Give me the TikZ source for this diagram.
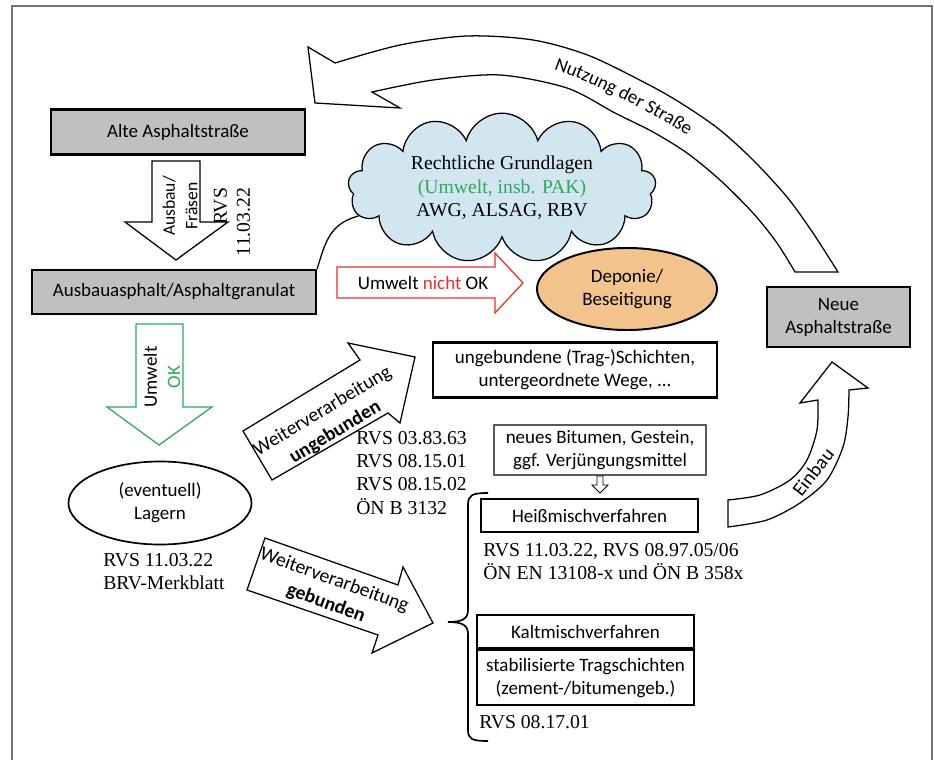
\documentclass[tikz,border=0pt]{standalone}
\usepackage{fontspec}
\setmainfont{Liberation Serif}
\setsansfont{Carlito}
\usepackage{tikz}
\usetikzlibrary{shapes.geometric, shapes.symbols, decorations.text}

\definecolor{boxgray}{HTML}{C0C0C0}
\definecolor{cloudblue}{HTML}{D2E6EF}
\definecolor{deporange}{HTML}{F3C38E}
\definecolor{okgreen}{HTML}{2FA95A}
\definecolor{nokred}{HTML}{E8302C}

\tikzset{
  lbl/.style={font=\sffamily\fontsize{13.5}{16.4}\selectfont, align=center},
  arrowlbl/.style={font=\sffamily\fontsize{14}{17.5}\selectfont, align=center, inner sep=0pt},
  norm/.style={font=\rmfamily\fontsize{14}{16.4}\selectfont, align=left, inner sep=0pt},
  graybox/.style={lbl, draw, line width=1.6pt, fill=boxgray, inner sep=0pt},
  whitebox/.style={lbl, draw, line width=1.6pt, fill=white, inner sep=0pt},
  blockarrow/.style={draw, fill=white, line width=0.9pt, line join=miter},
}

\begin{document}
\begin{tikzpicture}[x=0.025cm, y=-0.025cm]
\useasboundingbox (0,0) rectangle (935,760);
% frame
\draw[black!55, line width=0.8pt] (12,760) -- (12,6) -- (932,6) -- (932,760);

% old road, milling
\node[graybox, minimum width=6.35cm, minimum height=1.125cm] (alte) at (178,132) {Alte Asphaltstraße};
\node[graybox, minimum width=7.1cm, minimum height=1.1cm] (ausbau) at (174,292) {Ausbauasphalt/Asphaltgranulat};
\draw[blockarrow] (152,161) -- (200,161) -- (200,222) -- (228,222) -- (176,260) -- (125,222) -- (152,222) -- cycle;
\node[lbl, rotate=90, font=\sffamily\fontsize{12.5}{16}\selectfont] (fraesen) at (180,206) {Ausbau/\\Fräsen};
\node[norm, rotate=90, align=right] (rvsa) at (232,222) {RVS\\11.03.22};

% legal background
\node[cloud, cloud puffs=13, cloud ignores aspect, draw, fill=cloudblue, line width=0.9pt,
      minimum width=7.7cm, minimum height=3.2cm, align=center,
      font=\rmfamily\fontsize{14}{16.6}\selectfont] (recht) at (502,188)
      {Rechtliche Grundlagen\\\textcolor{okgreen}{(Umwelt, insb. PAK)}\\AWG, ALSAG, RBV};
\draw[line width=0.9pt] (ausbau.north east) .. controls (326,240) and (330,224) .. (recht.191);

% landfill
\draw[blockarrow, draw=nokred] (337,267) -- (495,267) -- (495,253) -- (523,283) -- (495,313) -- (495,298) -- (337,298) -- cycle;
\node[lbl] (nichtok) at (423,283) {Umwelt \textcolor{nokred}{nicht} OK};
\node[ellipse, draw, line width=1.4pt, fill=deporange, lbl, minimum width=4.5cm, minimum height=2.05cm, inner sep=0pt] (deponie) at (627,289) {Deponie/\\Beseitigung};

% storage
\draw[blockarrow, draw=okgreen] (136,324) -- (183,324) -- (183,407) -- (212,407) -- (159,445) -- (107,407) -- (136,407) -- cycle;
\node[lbl, rotate=90] (umweltok) at (162,377) {Umwelt\\\textcolor{okgreen}{OK}};
\node[ellipse, draw, line width=1.2pt, lbl, minimum width=4.575cm, minimum height=2.075cm, inner sep=0pt] (lagern) at (160,503) {(eventuell)\\Lagern};
\node[norm, anchor=west] (rvsb) at (103,572) {RVS 11.03.22\\BRV-Merkblatt};

% unbound reuse
\draw[blockarrow] (272,480) -- (243,431) -- (360,360) -- (348,343) -- (415,357) -- (400,423) -- (388,413) -- cycle;
\node[arrowlbl, rotate=31] (ungebunden) at (329,422) {Weiterverarbeitung\\\textbf{ungebunden}};
\node[whitebox, minimum width=7.1cm, minimum height=1.375cm] (ungeb) at (575,370) {ungebundene (Trag-)Schichten,\\untergeordnete Wege, ...};
\node[norm, anchor=west] (rvsc) at (356,473) {RVS 03.83.63\\RVS 08.15.01\\RVS 08.15.02\\ÖN B 3132};

% bound reuse
\draw[blockarrow] (265,538) -- (398,585) -- (403,567) -- (433,623) -- (372,653) -- (378,635) -- (247,590) -- cycle;
\node[arrowlbl, rotate=-20] (gebunden) at (330,592) {Weiterverarbeitung\\\textbf{gebunden}};
\draw[line width=1.2pt] (488,493) .. controls (472,493) and (468,495) .. (468,505) -- (468,610)
  .. controls (468,619) and (462,622) .. (448,622) .. controls (462,622) and (468,625) .. (468,634)
  -- (468,730) .. controls (468,739) and (472,741) .. (488,741);

% hot mix
\node[whitebox, draw=black!65, line width=0.8pt, minimum width=5.3cm, minimum height=1.25cm] (neues) at (600,450) {neues Bitumen, Gestein,\\ggf. Verjüngungsmittel};
\node[whitebox, minimum width=5.425cm, minimum height=0.825cm] (heiss) at (589.5,515.5) {Heißmischverfahren};
\draw[blockarrow, line width=0.7pt] (597,476) -- (603,476) -- (603,485) -- (608,485) -- (600,493) -- (592,485) -- (597,485) -- cycle;
\node[norm, anchor=west] (rvsd) at (483,562) {RVS 11.03.22, RVS 08.97.05/06\\ÖN EN 13108-x und ÖN B 358x};

% cold mix
\node[whitebox, minimum width=5.425cm, minimum height=0.825cm] (kalt) at (585.5,631.5) {Kaltmischverfahren};
\node[whitebox, minimum width=5.425cm, minimum height=1.375cm, anchor=north] (stabil) at (kalt.south) {stabilisierte Tragschichten\\(zement-/bitumengeb.)};
\node[norm, anchor=west] (rvse) at (479,722) {RVS 08.17.01};

% new road
\node[graybox, minimum width=3.575cm, minimum height=1.5cm] (neue) at (838.5,317) {Neue\\Asphaltstraße};
\draw[blockarrow] (728,500) -- plot[smooth] coordinates {(728,527) (767,520) (800,503) (827,480) (843,447) (848,417) (849,390)}
  -- (868,388) -- (832,362) -- (800,403) -- plot[smooth] coordinates {(818,400) (817,430) (807,460) (790,480) (760,495) (728,500)} -- cycle;
\node[arrowlbl, rotate=52] (einbau) at (813,472) {Einbau};

% use of the road
\draw[blockarrow] plot[smooth] coordinates {(795,272) (777,243) (753,213) (720,180) (687,153) (653,132) (615,113) (567,88) (500,75) (433,80) (372,92)}
  -- (400,108) -- (315,103) -- (308,47) -- plot[smooth] coordinates {(335,63) (400,45) (467,36) (533,40) (590,56) (653,87) (687,107) (720,130) (753,160) (787,197) (813,233) (838,272)} -- cycle;
\path[decorate, decoration={text along path, text align=center,
      text={|\sffamily\fontsize{13.5}{13.5}\selectfont|Nutzung der Straße}}]
  (540,65) .. controls (575,74) and (640,105) .. (700,143);
\end{tikzpicture}
\end{document}
